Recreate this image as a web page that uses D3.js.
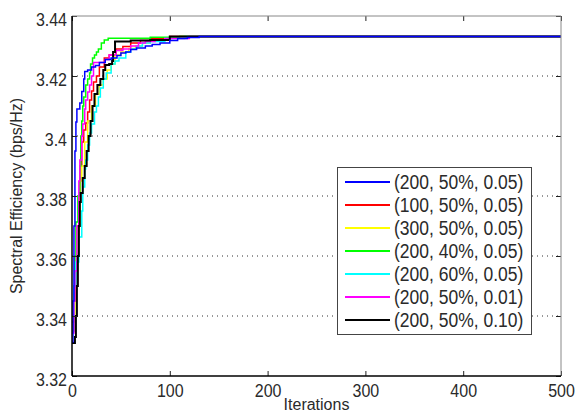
<!DOCTYPE html>
<html>
<head>
<meta charset="utf-8">
<script src="https://cdn.jsdelivr.net/npm/d3@7"></script>
<style>
  body { margin: 0; background: #fff; }
  text { font-family: "Liberation Sans", Arial, sans-serif; fill: #2a2a2a; }
</style>
</head>
<body>
<div id="chart"></div>
<script>
// convergence curves, [iteration, spectral efficiency]
const blueRun = [[0,3.3313],[1,3.345],[2,3.37],[3,3.395],[4,3.4047],[5,3.409],[8,3.411],[10,3.4148],[12,3.419],[13,3.4215],[16,3.422],[20,3.423],[24,3.4235],[28,3.4245],[34,3.4255],[40,3.426],[46,3.4268],[50,3.4277],[55,3.428],[60,3.4288],[66,3.4293],[75,3.43],[82,3.4305],[90,3.431],[100,3.4318],[108,3.4325],[118,3.4328],[130,3.4332],[500,3.4332]];
const redRun = [[0,3.338],[2,3.345],[4,3.35],[5,3.36],[7,3.375],[8,3.39],[10,3.398],[12,3.402],[14,3.4043],[16,3.408],[18,3.412],[20,3.415],[22,3.418],[25,3.42],[28,3.423],[33,3.426],[38,3.427],[45,3.429],[52,3.4298],[60,3.431],[70,3.4318],[80,3.4325],[100,3.4332],[500,3.4332]];
const yellowRun = [[0,3.34],[3,3.355],[5,3.37],[8,3.385],[10,3.39],[13,3.398],[16,3.405],[20,3.41],[24,3.414],[28,3.417],[32,3.419],[36,3.422],[40,3.424],[44,3.427],[50,3.428],[58,3.4292],[65,3.43],[72,3.431],[80,3.432],[95,3.4327],[110,3.4332],[500,3.4332]];
const greenRun = [[0,3.335],[2,3.35],[3,3.36],[4,3.3713],[6,3.38],[8,3.39],[9,3.4],[10,3.405],[11,3.41],[12,3.413],[14,3.417],[16,3.419],[18,3.421],[19,3.424],[21,3.426],[23,3.427],[25,3.428],[27,3.429],[30,3.431],[33,3.432],[37,3.4326],[80,3.4329],[110,3.4332],[500,3.4332]];
const cyanRun = [[0,3.34],[2,3.35],[4,3.358],[7,3.3663],[10,3.375],[11,3.383],[13,3.389],[14,3.392],[16,3.397],[18,3.401],[20,3.404],[23,3.408],[25,3.41],[27,3.413],[29,3.416],[32,3.419],[35,3.421],[40,3.424],[44,3.425],[48,3.426],[55,3.428],[60,3.429],[66,3.43],[72,3.431],[80,3.4315],[95,3.4325],[115,3.4332],[500,3.4332]];
const magentaRun = [[0,3.3343],[2,3.345],[3,3.355],[5,3.37],[7,3.385],[8,3.392],[10,3.4],[11,3.404],[13,3.409],[14,3.412],[16,3.4147],[18,3.417],[20,3.42],[22,3.4245],[34,3.4255],[38,3.427],[45,3.4285],[52,3.429],[60,3.43],[68,3.431],[75,3.4315],[85,3.432],[95,3.4325],[120,3.4332],[500,3.4332]];
const blackRun = [[0,3.331],[3,3.333],[4,3.34],[5,3.35],[6,3.36],[7,3.37],[8,3.378],[9,3.381],[11,3.386],[13,3.39],[15,3.395],[17,3.4],[19,3.405],[21,3.41],[23,3.414],[26,3.417],[29,3.419],[32,3.422],[34,3.4237],[38,3.424],[41,3.425],[42,3.428],[44,3.4315],[60,3.4318],[80,3.432],[100,3.4332],[500,3.4332]];

const legendLabels = ["(200, 50%, 0.05)", "(100, 50%, 0.05)", "(300, 50%, 0.05)", "(200, 40%, 0.05)", "(200, 60%, 0.05)", "(200, 50%, 0.01)", "(200, 50%, 0.10)"];
const xTickLabels = ["0", "100", "200", "300", "400", "500"];
const yTickLabels = ["3.32", "3.34", "3.36", "3.38", "3.4", "3.42", "3.44"];

const series = [
    { name: legendLabels[0], color: "#0000ff", data: blueRun, width: 1.5 },
    { name: legendLabels[1], color: "#ff0000", data: redRun, width: 1.5 },
    { name: legendLabels[2], color: "#ffff00", data: yellowRun, width: 1.5 },
    { name: legendLabels[3], color: "#00ff00", data: greenRun, width: 1.5 },
    { name: legendLabels[4], color: "#00ffff", data: cyanRun, width: 1.5 },
    { name: legendLabels[5], color: "#ff00ff", data: magentaRun, width: 1.5 },
    { name: legendLabels[6], color: "#000000", data: blackRun, width: 2 }
];

const width = 583, height = 415;
const plot = { left: 72, right: 561, top: 16, bottom: 376 };
const stretch = 1.2;   // glyphs in the picture are tall and narrow

const xScale = d3.scaleLinear().domain([0, 500]).range([plot.left, plot.right]);
const yScale = d3.scaleLinear().domain([3.32, 3.44]).range([plot.bottom, plot.top]);

const svg = d3.select("#chart")
    .append("svg")
    .attr("width", width)
    .attr("height", height);

// dotted grid, horizontal only
svg.append("g")
    .attr("class", "grid")
    .selectAll("line")
    .data(yTickLabels.slice(1, -1).map(Number))
    .enter()
    .append("line")
    .attr("x1", plot.left)
    .attr("x2", plot.right)
    .attr("y1", d => yScale(d))
    .attr("y2", d => yScale(d))
    .attr("stroke", "#333")
    .attr("stroke-width", 1)
    .attr("stroke-dasharray", "1,4");

// curves
const line = d3.line()
    .x(d => xScale(d[0]))
    .y(d => yScale(d[1]))
    .curve(d3.curveStepAfter);

const drawOrder = [1, 2, 3, 4, 5, 6, 0];
svg.append("g")
    .attr("class", "curves")
    .selectAll("path")
    .data(drawOrder.map(i => series[i]))
    .enter()
    .append("path")
    .attr("fill", "none")
    .attr("stroke", d => d.color)
    .attr("stroke-width", d => d.width)
    .attr("d", d => line(d.data));

// axes, ticks pointing inward
const xTicks = xTickLabels.map(Number);
const yTicks = yTickLabels.map(Number);

const xAxis = svg.append("g")
    .attr("transform", "translate(0," + plot.bottom + ")")
    .call(d3.axisBottom(xScale).tickValues(xTicks).tickSize(-5).tickFormat((d, i) => xTickLabels[i]));
xAxis.selectAll("text")
    .attr("y", null).attr("dy", null)
    .attr("fill", null)
    .attr("transform", "translate(0,21) scale(1," + stretch + ")")
    .style("font-size", "16px");

const yAxis = svg.append("g")
    .attr("transform", "translate(" + plot.left + ",0)")
    .call(d3.axisLeft(yScale).tickValues(yTicks).tickSize(-5).tickFormat((d, i) => yTickLabels[i]));
yAxis.selectAll("text")
    .attr("x", null).attr("dy", null)
    .attr("fill", null)
    .attr("transform", "translate(-5,9) scale(1," + stretch + ")")
    .style("font-size", "16px");

svg.append("g")
    .attr("transform", "translate(0," + plot.top + ")")
    .call(d3.axisTop(xScale).tickValues(xTicks).tickSize(-5).tickFormat(""));
svg.append("g")
    .attr("transform", "translate(" + plot.right + ",0)")
    .call(d3.axisRight(yScale).tickValues(yTicks).tickSize(-5).tickFormat(""));

svg.selectAll(".domain").remove();
svg.selectAll(".tick line").attr("stroke", "#222");

// frame
svg.append("line").attr("x1", plot.left).attr("x2", plot.right).attr("y1", plot.top).attr("y2", plot.top).attr("stroke", "#888");
svg.append("line").attr("x1", plot.right).attr("x2", plot.right).attr("y1", plot.top).attr("y2", plot.bottom).attr("stroke", "#888");
svg.append("line").attr("x1", plot.left).attr("x2", plot.right).attr("y1", plot.bottom).attr("y2", plot.bottom).attr("stroke", "#000").attr("stroke-width", 1.5);
svg.append("line").attr("x1", plot.left).attr("x2", plot.left).attr("y1", plot.top).attr("y2", plot.bottom).attr("stroke", "#000").attr("stroke-width", 1.5);

// axis titles
svg.append("text")
    .attr("text-anchor", "middle")
    .attr("transform", "translate(" + ((plot.left + plot.right) / 2) + ",410)")
    .style("font-size", "16px")
    .text("Iterations");

svg.append("text")
    .attr("text-anchor", "middle")
    .attr("transform", "translate(22," + ((plot.top + plot.bottom) / 2) + ") rotate(-90)")
    .style("font-size", "16px")
    .text("Spectral Efficiency (bps/Hz)");

// legend
const legend = svg.append("g").attr("class", "legend");
legend.append("rect")
    .attr("x", 337.5).attr("y", 167.5)
    .attr("width", 194).attr("height", 167)
    .attr("fill", "#fff")
    .attr("stroke", "#444");

const rows = legend.selectAll("g.row")
    .data(series)
    .enter()
    .append("g")
    .attr("class", "row")
    .attr("transform", (d, i) => "translate(345," + (182 + i * 23) + ")");

rows.append("line")
    .attr("x1", 0).attr("x2", 45)
    .attr("stroke", d => d.color)
    .attr("stroke-width", 2);

rows.append("text")
    .attr("transform", "translate(49,6.5) scale(1," + stretch + ")")
    .style("font-size", "17.5px")
    .text(d => d.name);
</script>
</body>
</html>
